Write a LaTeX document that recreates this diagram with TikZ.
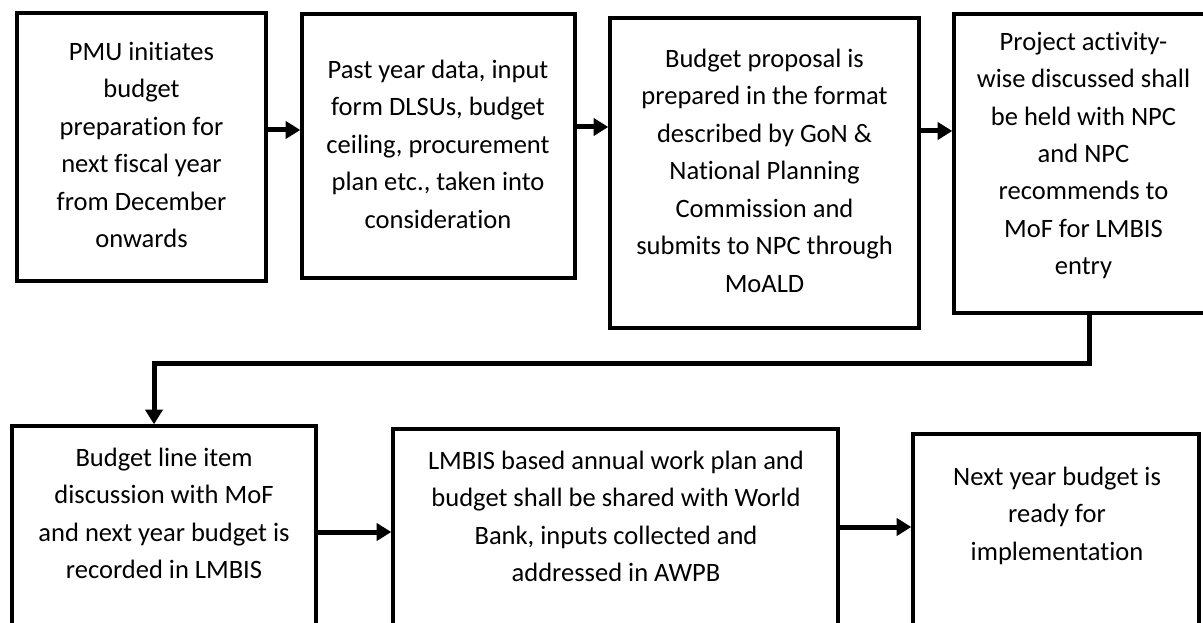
\documentclass[tikz,border=0pt]{standalone}
\usepackage{fontspec}
\setmainfont{Carlito}[Ligatures={NoCommon}]
\usetikzlibrary{arrows.meta}
\begin{document}
\begin{tikzpicture}[x=0.75pt,y=-0.75pt,
  box/.style={draw=black, line width=2.5pt, rectangle, inner sep=0pt},
  txt/.style={align=center, inner sep=0pt, font=\fontsize{19.9}{28.1}\selectfont},
  arr/.style={line width=3.75pt, -{Triangle[length=11pt,width=12.75pt]}},
  conn/.style={line width=3.75pt}]
\useasboundingbox (0,0) rectangle (1203,623);
\clip (0,0) rectangle (1203,623);
% boxes
\node[box, minimum width=249*0.75pt, minimum height=268*0.75pt] (b1) at (141.5,147) {};
\node[box, minimum width=273*0.75pt, minimum height=264*0.75pt] (b2) at (438.5,146) {};
\node[box, minimum width=309*0.75pt, minimum height=310*0.75pt] (b3) at (764.5,173) {};
\node[box, minimum width=259*0.75pt, minimum height=299*0.75pt] (b4) at (1083.5,163.5) {};
\node[box, minimum width=304*0.75pt, minimum height=234*0.75pt] (b5) at (164,543) {};
\node[box, minimum width=445*0.75pt, minimum height=231*0.75pt] (b6) at (615.5,544.5) {};
\node[box, minimum width=286*0.75pt, minimum height=226*0.75pt] (b7) at (1056,547) {};
% texts
\node[txt] (t1) at (141.5,145) {PMU initiates\\budget\\preparation for\\next fiscal year\\from December\\onwards};
\node[txt] (t2) at (438,144) {Past year data, input\\form DLSUs, budget\\ceiling, procurement\\plan etc., taken into\\consideration};
\node[txt] (t3) at (764.5,170.5) {Budget proposal is\\prepared in the format\\described by GoN \&\\National Planning\\Commission and\\submits to NPC through\\MoALD};
\node[txt] (t4) at (1083.5,155.5) {Project activity-\\wise discussed shall\\be held with NPC\\and NPC\\recommends to\\MoF for LMBIS\\entry};
\node[txt] (t5) at (164,513.5) {Budget line item\\discussion with MoF\\and next year budget is\\recorded in LMBIS};
\node[txt] (t6) at (616,516.5) {LMBIS based annual work plan and\\budget shall be shared with World\\Bank, inputs collected and\\addressed in AWPB};
\node[txt] (t7) at (1057,515.5) {Next year budget is\\ready for\\implementation};
% connector bend points
\coordinate (c1) at (1089,364);
\coordinate (c2) at (154,364);
% connectors
\draw[arr] (b1.east |- 0,130) -- (b2.west |- 0,130);
\draw[arr] (b2.east |- 0,127) -- (b3.west |- 0,127);
\draw[arr] (b3.east |- 0,131) -- (b4.west |- 0,131);
\draw[arr] (b4.south -| c1) -- (c1) -- (c2) -- (b5.north -| c2);
\draw[arr] (b5.east |- 0,532) -- (b6.west |- 0,532);
\draw[arr] (b6.east |- 0,527) -- (b7.west |- 0,527);
\end{tikzpicture}
\end{document}
